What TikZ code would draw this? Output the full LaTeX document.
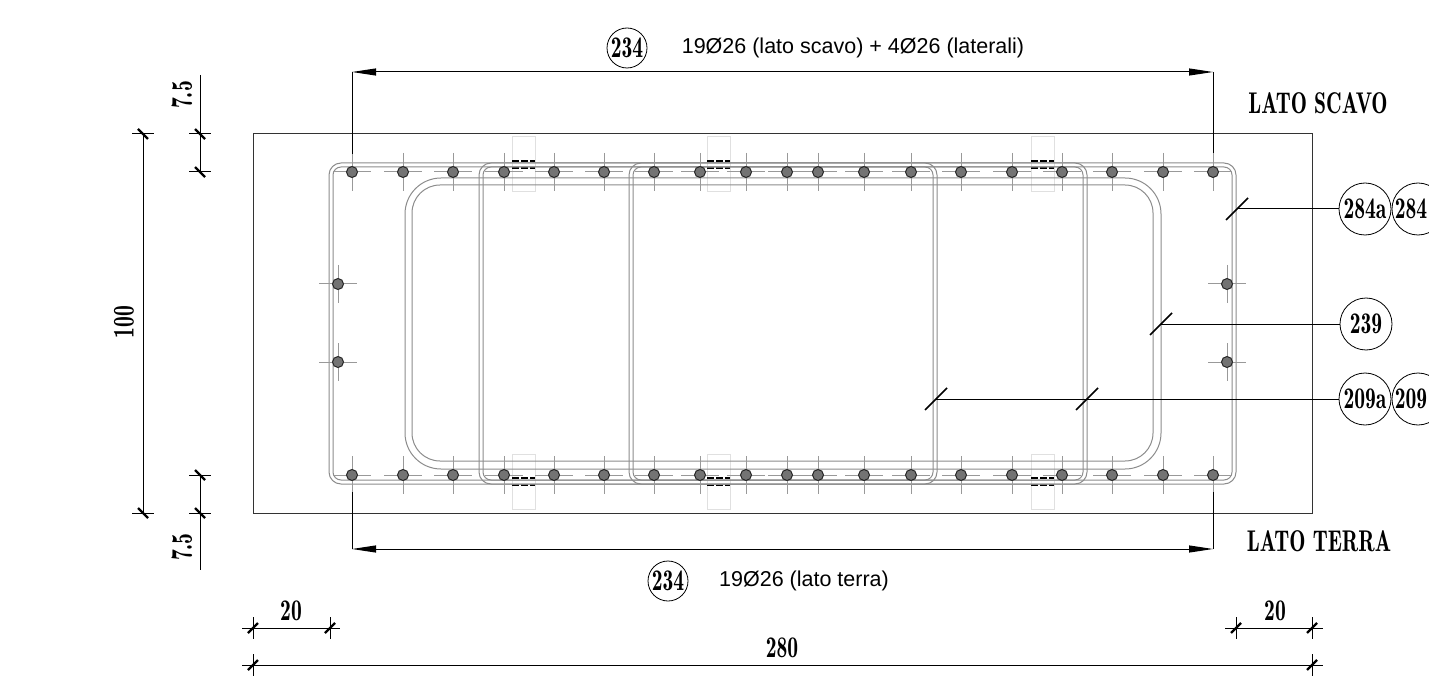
\documentclass[tikz,border=0pt]{standalone}
\usepackage{fontspec}
\setsansfont{Liberation Sans}
\newfontfamily\dimfont[FakeStretch=0.72]{Latin Modern Roman Demi}
\usetikzlibrary{arrows.meta}
\begin{document}
\begin{tikzpicture} [
            x=0.5pt,y=-0.5pt,
            concrete/.style={draw=black!80,line width=0.5pt},
            barstirrup/.style={draw=black!45,line width=0.5pt},
            bar/.style={circle,draw=black!85,fill=black!55,line width=0.5pt,minimum size=5.5pt,inner sep=0pt},
            armline/.style={draw=black!40,line width=0.5pt},
            lapbox/.style={draw=black!12,line width=0.5pt},
            lapline/.style={draw=black,line width=1pt,dash pattern=on 3.5pt off 1pt},
            dimline/.style={draw=black,line width=0.5pt},
            dimarrow/.style={dimline,{Triangle[length=12pt,width=3.5pt]}-{Triangle[length=12pt,width=3.5pt]}},
            slash/.style={draw=black,line width=1.2pt},
            tagbig/.style={circle,draw=black,line width=0.4pt,fill=white,minimum size=26pt,inner sep=0pt,font=\dimfont\fontsize{15}{15}\selectfont},
            tagsmall/.style={tagbig,minimum size=20pt},
            dimtext/.style={font=\dimfont\fontsize{15}{15}\selectfont,inner sep=0pt},
            note/.style={font=\sffamily\fontsize{10.75}{11}\selectfont,inner sep=0pt},
        ]
        \clip (0,0) rectangle (1429,679);
        \path[concrete] (253,134) rectangle (1312,513);
        % lap boxes
        \foreach \x in {512,707,1031} {
            \path[lapbox] (\x,137) rectangle (\x+23,192);
            \path[lapbox] (\x,454) rectangle (\x+23,509);
            \foreach \y in {161,168,478,485}
                \path[lapline] (\x,\y) -- (\x+23,\y);
        }
        % stirrups
        \path[barstirrup,rounded corners=6pt] (329,163) rectangle (1236,484);
        \path[barstirrup,rounded corners=4pt] (333,167) rectangle (1232,480);
        \path[barstirrup,rounded corners=6pt] (479,163) rectangle (937,484);
        \path[barstirrup,rounded corners=4pt] (483,167) rectangle (933,480);
        \path[barstirrup,rounded corners=6pt] (629,163) rectangle (1087,484);
        \path[barstirrup,rounded corners=4pt] (633,167) rectangle (1083,480);
        \path[barstirrup,rounded corners=18pt] (405,178) rectangle (1161,469);
        \path[barstirrup,rounded corners=14pt] (412,185) rectangle (1153,461);
        % bars
        \foreach \x [count=\i] in {352,403,453,504,554,604,654,700,746,787,818,864,911,961,1012,1062,1112,1163,1213} {
            \path[armline] (\x-19,172) -- (\x+19,172) (\x,153) -- (\x,191);
            \path[armline] (\x-19,475) -- (\x+19,475) (\x,456) -- (\x,494);
            \node[bar] (top\i) at (\x,172) {};
            \node[bar] (bot\i) at (\x,475) {};
        }
        \foreach \x/\y/\name in {338/284/a,338/362/b,1227/284/c,1227/362/d} {
            \path[armline] (\x-19,\y) -- (\x+19,\y) (\x,\y-19) -- (\x,\y+19);
            \node[bar] (side\name) at (\x,\y) {};
        }
        % bar dimensions
        \coordinate (topL) at (352,72);
        \coordinate (topR) at (1213,72);
        \coordinate (botL) at (352,549);
        \coordinate (botR) at (1213,549);
        \path[dimarrow] (topL) -- (topR);
        \path[dimarrow] (botL) -- (botR);
        \path[dimline] (topL) -- (352,154);
        \path[dimline] (topR) -- (1213,153);
        \path[dimline] (botL) -- (352,492);
        \path[dimline] (botR) -- (1213,492);
        \node[tagsmall] (tagTop) at (627,48) {234};
        \node[tagsmall] (tagBot) at (668,581) {234};
        \node[note] (noteTop) at (853,48) {19Ø26 (lato scavo) + 4Ø26 (laterali)};
        \node[note] (noteBot) at (804,581) {19Ø26 (lato terra)};
        \node[dimtext] (sideTop) at (1318,103) {LATO SCAVO};
        \node[dimtext] (sideBot) at (1319,541) {LATO TERRA};
        % leaders
        \coordinate (c284) at (1237,209);
        \coordinate (c239) at (1161,324);
        \coordinate (c209a) at (936,399);
        \coordinate (c209b) at (1087,399);
        \node[tagbig] (t284a) at (1365,209) {284a};
        \node[tagbig] (t284) at (1418,209) {};
        \node[dimtext] (l284) at (1411,209) {284};
        \node[tagbig] (t239) at (1366,324) {239};
        \node[tagbig] (t209a) at (1365,399) {209a};
        \node[tagbig] (t209) at (1418,399) {};
        \node[dimtext] (l209) at (1411,399) {209};
        \path[dimline] (t284a) -- (c284);
        \path[dimline] (t239) -- (c239);
        \path[dimline] (t209a) -- (c209a);
        \foreach \name in {c284,c239,c209a,c209b}
            \path[slash,line width=0.8pt] (\name) ++(-11,11) -- ++(22,-22);
        % vertical dimensions
        \path[dimline] (143,134) -- (143,513);
        \path[dimline] (200,75) -- (200,172);
        \path[dimline] (200,475) -- (200,570);
        \foreach \x/\y in {143/134,143/513,200/134,200/172,200/475,200/513} {
            \path[dimline] (\x-11,\y) -- (\x+11,\y);
            \path[slash] (\x-5,\y-5) -- (\x+5,\y+5);
        }
        \node[dimtext,rotate=90] (dim100) at (124,322) {100};
        \node[dimtext,rotate=90] (dimTop) at (182,95) {7.5};
        \node[dimtext,rotate=90] (dimBot) at (182,547) {7.5};
        % horizontal dimensions
        \path[dimline] (242,628) -- (340,628);
        \path[dimline] (1225,628) -- (1323,628);
        \path[dimline] (242,665) -- (1323,665);
        \foreach \x/\y in {253/628,330/628,1236/628,1312/628,253/665,1312/665} {
            \path[dimline] (\x,\y-11) -- (\x,\y+11);
            \path[slash] (\x-5,\y+5) -- (\x+5,\y-5);
        }
        \node[dimtext] (dimL) at (291,611) {20};
        \node[dimtext] (dimR) at (1275,611) {20};
        \node[dimtext] (dimAll) at (782,648) {280};
    \end{tikzpicture}
\end{document}
